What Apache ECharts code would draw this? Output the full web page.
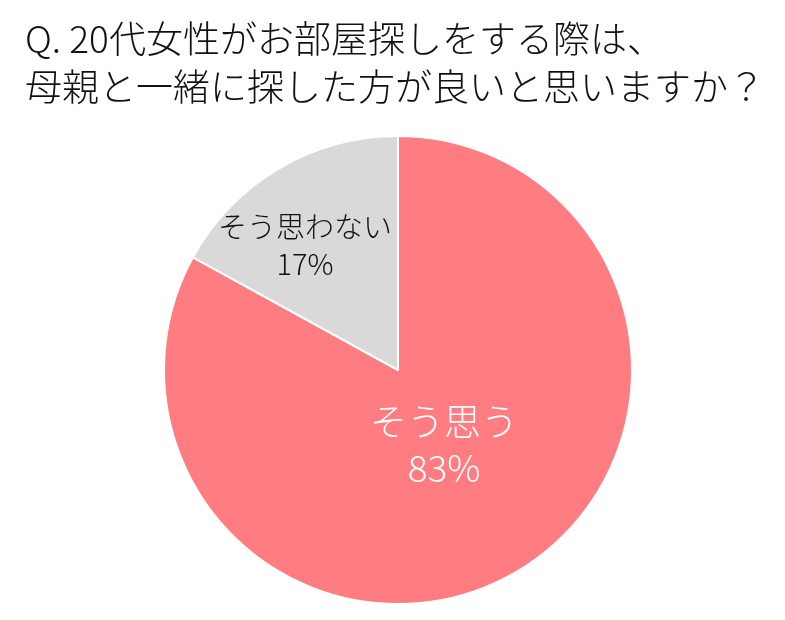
<!DOCTYPE html>
<html><head><meta charset="utf-8">
<script src="https://cdn.jsdelivr.net/npm/echarts@6/dist/echarts.min.js"></script>
<style>html,body{margin:0;padding:0;background:#fff}#c{width:785px;height:620px}</style>
</head><body><div id="c"></div>
<script>
const titleLines = ['Q. 20代女性がお部屋探しをする際は、', '母親と一緒に探した方が良いと思いますか？'];
const categories = ['そう思う', 'そう思わない'];
const values = [83, 17];
const colors = ['#FF7C80', '#D9D9D9'];

const chart = echarts.init(document.getElementById('c'));
chart.setOption({
  animation: false,
  title: {
    text: titleLines.join('\n'),
    left: 20, top: 10,
    textStyle: { fontFamily: 'Noto Sans CJK JP', fontWeight: 300, fontSize: 37, color: '#111', lineHeight: 48 }
  },
  series: [{
    type: 'pie',
    center: [398, 370],
    radius: [0, 234],
    startAngle: 90,
    clockwise: true,
    itemStyle: { borderColor: '#fff', borderWidth: 2 },
    label: {
      position: 'inside',
      formatter: p => p.name + '\n' + p.value + '%',
      fontFamily: 'Noto Sans CJK JP',
      fontWeight: 300
    },
    labelLine: { show: false },
    emphasis: { disabled: true },
    data: categories.map((n, i) => ({
      name: n, value: values[i],
      itemStyle: { color: colors[i] },
      label: i === 0
        ? { color: '#fff', fontSize: 37, lineHeight: 46, offset: [-15, -28] }
        : { color: '#111', fontSize: 29, lineHeight: 37, offset: [-32, -21] }
    }))
  }]
});
</script></body></html>
